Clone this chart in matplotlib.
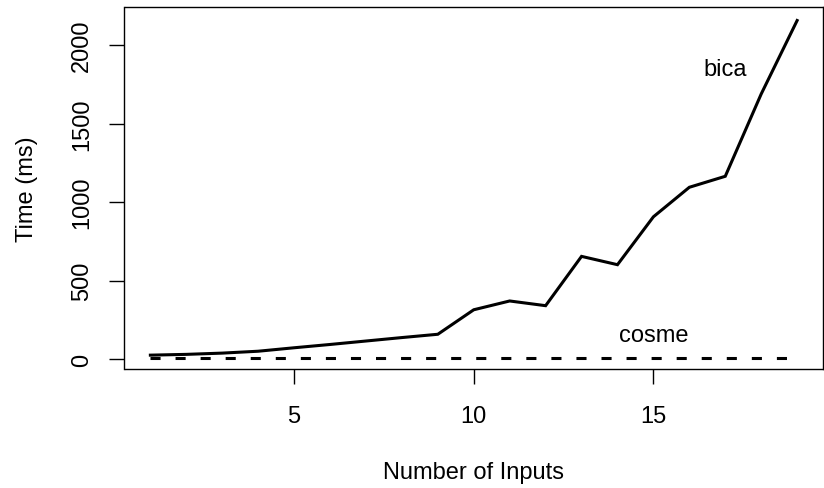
import numpy as np
import matplotlib
matplotlib.use("Agg")
import matplotlib.pyplot as plt

plt.rcParams['font.family'] = ['Liberation Sans', 'DejaVu Sans']

# data
n_inputs = list(range(1, 20))
bica_ms = [25, 30, 38, 50, 72, 93, 115, 137, 158, 314, 370, 340,
           654, 601, 906, 1094, 1164, 1688, 2156]
cosme_ms = [10] * 19

x_ticks = [5, 10, 15]
y_ticks = [0, 500, 1000, 1500, 2000]

fig = plt.figure(figsize=(8.24, 4.89), dpi=100)
ax = fig.add_axes([124.5 / 824, 1 - 369.5 / 489, (823 - 124.5) / 824, (369.5 - 8) / 489])

ax.plot(n_inputs, bica_ms, color='black', lw=2.2, solid_joinstyle='miter')
ax.plot(n_inputs, cosme_ms, color='black', lw=2.2, dashes=(3.3, 4.9),
        dash_capstyle='butt')

ax.text(17, 1850, "bica", ha='center', va='center', fontsize=17)
ax.text(15, 155, "cosme", ha='center', va='center', fontsize=17)

ax.set_xlim(0.28, 19.72)
ax.set_ylim(-60, 2242)
ax.set_xticks(x_ticks)
ax.set_yticks(y_ticks)
ax.set_yticklabels([str(v) for v in y_ticks], rotation=90, va='center')
ax.tick_params(axis='both', length=10.5, width=1.0, labelsize=17, direction='out')
ax.tick_params(axis='x', pad=15.5)
ax.tick_params(axis='y', pad=12)
for s in ax.spines.values():
    s.set_linewidth(1.0)

ax.set_xlabel("Number of Inputs", fontsize=17)
ax.set_ylabel("Time (ms)", fontsize=17)
ax.xaxis.set_label_coords(0.5, -(473 - 369.5) / 361.5, transform=ax.transAxes)
ax.yaxis.set_label_coords(-(124.5 - 27) / 698.5, 0.5, transform=ax.transAxes)
ax.xaxis.label.set_va('center')
ax.yaxis.label.set_va('center')

fig.savefig("out.png", dpi=100)
